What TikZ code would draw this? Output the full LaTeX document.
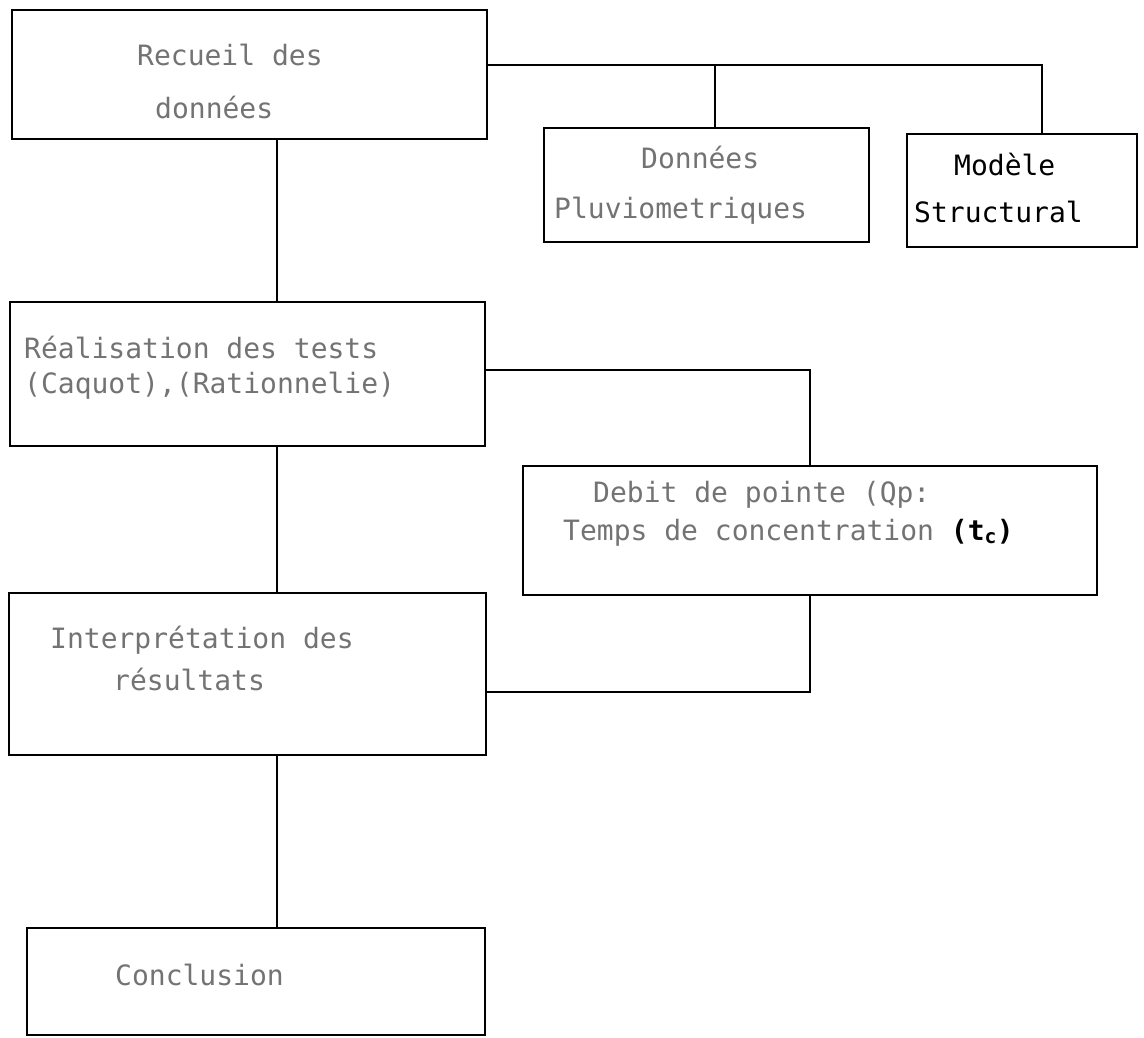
\documentclass[tikz,border=0pt]{standalone}
\usepackage{fontspec}
\setmonofont{DejaVu Sans Mono}

\begin{document}
\begin{tikzpicture}[x=1pt,y=-1pt,
    box/.style={draw,line width=1.8pt,inner sep=0pt,outer sep=0pt},
    txt/.style={anchor=base west,inner sep=0pt,text=black!55,
      font=\ttfamily\fontsize{28pt}{30pt}\selectfont},
    ink/.style={txt,text=black}]
\useasboundingbox (0,0) rectangle (1144,1037);

% boxes on the left
\node[box,minimum width=475pt,minimum height=129pt] (recueil) at (249.5,74.5) {};
\node[box,minimum width=475pt,minimum height=144pt] (realisation) at (247.5,374) {};
\node[box,minimum width=477pt,minimum height=162pt] (interp) at (247.5,674) {};
\node[box,minimum width=458pt,minimum height=107pt] (conclusion) at (256,981.5) {};

% boxes on the right
\node[box,minimum width=325pt,minimum height=114pt] (donnees) at (706.5,185) {};
\node[box,minimum width=230pt,minimum height=113pt] (modele) at (1022,190.5) {};
\node[box,minimum width=574pt,minimum height=129pt] (debit) at (810,530.5) {};

% texts
\node[txt] (t1a) at (137,65) {Recueil des};
\node[txt] (t1b) at (155,118) {données};
\node[txt] (t2a) at (641,168) {Données};
\node[txt] (t2b) at (554,218) {Pluviometriques};
\node[ink] (t3a) at (954,175) {Modèle};
\node[ink] (t3b) at (914,222) {Structural};
\node[txt] (t4a) at (24,358) {Réalisation des tests};
\node[txt] (t4b) at (24,393) {(Caquot),(Rationnelie)};
\node[txt] (t5a) at (593,502) {Debit de pointe (Qp:};
\node[txt] (t5b) at (563,540) {Temps de concentration {\color{black}\bfseries(t\textsubscript{c})}};
\node[txt] (t6a) at (50,648) {Interprétation des};
\node[txt] (t6b) at (113,690) {résultats};
\node[txt] (t7) at (115,985) {Conclusion};

% connectors
\coordinate (spine) at (277,0);
\coordinate (fork) at (715,0);
\coordinate (drop) at (810,0);
\draw[line width=1.8pt] ([yshift=9.5pt]recueil.east) -| ([xshift=20pt]modele.north);
\draw[line width=1.8pt] (donnees.north -| fork) -- (fork |- 0,65);
\draw[line width=1.8pt] (recueil.south -| spine) -- (realisation.north -| spine);
\draw[line width=1.8pt] (realisation.south -| spine) -- (interp.north -| spine);
\draw[line width=1.8pt] (interp.south -| spine) -- (conclusion.north -| spine);
\draw[line width=1.8pt] ([yshift=4pt]realisation.east) -| (debit.north -| drop);
\draw[line width=1.8pt] (debit.south -| drop) |- ([yshift=-18pt]interp.east);

\end{tikzpicture}
\end{document}
